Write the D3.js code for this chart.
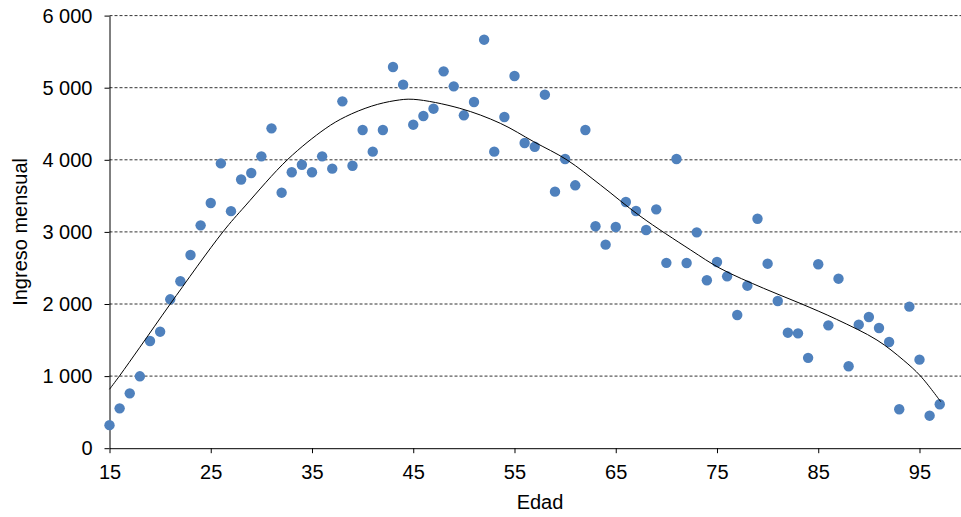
<!DOCTYPE html>
<html><head><meta charset="utf-8">
<script src="https://cdn.jsdelivr.net/npm/d3@7"></script>
<style>
body{margin:0;background:#fff}
svg{display:block}
text{font-family:"Liberation Sans",Arial,sans-serif}
</style>
</head><body>
<svg id="c" width="961" height="517"></svg>
<script>
// ---- data ----
const ages = [15,16,17,18,19,20,21,22,23,24,25,26,27,28,29,30,31,32,33,34,35,36,37,38,39,40,
  41,42,43,44,45,46,47,48,49,50,51,52,53,54,55,56,57,58,59,60,61,62,63,64,65,66,67,68,69,70,
  71,72,73,74,75,76,77,78,79,80,81,82,83,84,85,86,87,88,89,90,91,92,93,94,95,96,97];
const incomes = [320,553,761,997,1487,1616,2065,2315,2680,3091,3401,3950,3288,3727,3817,4048,
  4436,3544,3828,3932,3828,4048,3877,4811,3918,4413,4113,4413,5287,5042,4487,4607,4709,5227,
  5019,4617,4802,5666,4113,4594,5162,4233,4180,4903,3558,4011,3646,4413,3078,2823,3068,3415,
  3290,3026,3313,2571,4011,2569,2994,2329,2583,2384,1847,2254,3183,2559,2042,1602,1593,1253,
  2551,1704,2351,1136,1713,1820,1667,1473,540,1963,1228,451,609];
// trendline
const trendAges   = [15,16,18,21,26.2,28.4,32.6,36.3,38.3,40.9,43.2,45,49.6,53.6,56.9,60.2,63.5,67.4,72.4,75.3,79.6,83.2,86.8,90.8,93.4,95.1,97.1];
const trendValues = [817,1005,1400,2000,3000,3360,4005,4430,4597,4745,4821,4839,4714,4506,4251,3997,3650,3220,2749,2495,2218,2010,1788,1500,1223,1001,645];
const xTicks = [15,25,35,45,55,65,75,85,95];
const yTicks = [0,1000,2000,3000,4000,5000,6000];
const xTitle = "Edad";
const yTitle = "Ingreso mensual";

// ---- chart ----
const svg = d3.select("#c");
const x = d3.scaleLinear().domain([15, 99.1]).range([109.5, 961]);
const y = d3.scaleLinear().domain([0, 6000]).range([448.2, 15.6]);
const loc = d3.formatLocale({decimal:",", thousands:" ", grouping:[3], currency:["",""]});
const fmt = loc.format(",d");

// gridlines
svg.append("g").selectAll("line").data(yTicks.filter(d => d > 0)).join("line")
  .attr("x1", x(15)).attr("x2", 961)
  .attr("y1", d => y(d)).attr("y2", d => y(d))
  .attr("stroke", "#333").attr("stroke-width", 1).attr("stroke-dasharray", "3,2");

// axes
const yAxis = svg.append("g").attr("transform", `translate(${x(15)},0)`)
  .call(d3.axisLeft(y).tickValues(yTicks).tickFormat(fmt).tickSize(5).tickSizeOuter(0).tickPadding(12));
const xAxis = svg.append("g").attr("transform", `translate(0,${y(0)})`)
  .call(d3.axisBottom(x).tickValues(xTicks).tickFormat(d3.format("d")).tickSize(5).tickSizeOuter(0).tickPadding(12));
[yAxis, xAxis].forEach(g => {
  g.selectAll("path,line").attr("stroke", "#000").attr("stroke-width", 1);
  g.selectAll("text").attr("font-size", 20).attr("fill", "#000")
   .attr("font-family", '"Liberation Sans",Arial,sans-serif');
});

// points
svg.append("g").selectAll("circle").data(ages.map((a, i) => [a, incomes[i]])).join("circle")
  .attr("cx", d => x(d[0])).attr("cy", d => y(d[1])).attr("r", 5.2)
  .attr("fill", "#4F81BD");

// trendline
const line = d3.line().x(d => x(d[0])).y(d => y(d[1])).curve(d3.curveCatmullRom.alpha(0.5));
svg.append("path").datum(trendAges.map((a, i) => [a, trendValues[i]]))
  .attr("d", line).attr("fill", "none").attr("stroke", "#000").attr("stroke-width", 1);

// titles
svg.append("text").attr("x", 540).attr("y", 509).attr("text-anchor", "middle")
  .attr("font-size", 20).attr("fill", "#000").text(xTitle);
svg.append("text").attr("transform", `translate(27,${(y(0)+y(6000))/2}) rotate(-90)`)
  .attr("text-anchor", "middle").attr("font-size", 20).attr("fill", "#000").text(yTitle);
</script>
</body></html>
